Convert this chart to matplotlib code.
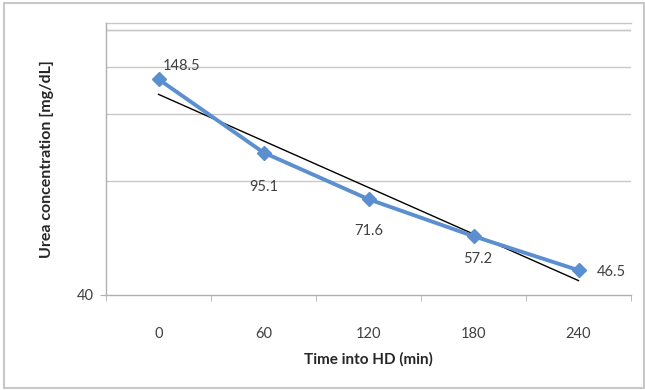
import numpy as np
import matplotlib.pyplot as plt
from matplotlib.patches import Rectangle

# data
time_min = [0, 60, 120, 180, 240]
urea = [148.5, 95.1, 71.6, 57.2, 46.5]
grid_vals = [80, 120, 160, 200]

# exponential trend line (straight on the log axis)
t = np.array(time_min, dtype=float)
slope, icpt = np.polyfit(t, np.log(urea), 1)
trend = np.exp(icpt + slope * t)

plt.rcParams['font.family'] = ['Lato', 'DejaVu Sans']

fig = plt.figure(figsize=(6.45, 3.90), dpi=100)
fig.patches.append(Rectangle((4 / 645, 2 / 390), 640 / 645, 385 / 390,
                             transform=fig.transFigure, fill=False,
                             edgecolor='#c8c8c8', linewidth=1.5))
ax = fig.add_axes([106 / 645, 1 - 295 / 390, 525 / 645, 272 / 390])

x = np.arange(len(time_min))
ax.plot(x, trend, color='black', linewidth=1.0, zorder=3)
ax.plot(x, urea, color='#5b8fd0', linewidth=2.8, marker='D', markersize=7,
        zorder=4)

ax.set_yscale('log')
ax.set_ylim(40, 209)
ax.set_xlim(-0.5, len(time_min) - 0.5)

ax.set_yticks([40])
ax.set_yticklabels(['40'])
ax.set_yticks(grid_vals, minor=True)
ax.set_yticklabels([], minor=True)
ax.yaxis.grid(True, which='minor', color='#c8c8c8', linewidth=1.0)
ax.tick_params(axis='y', which='minor', length=0)
ax.tick_params(axis='y', which='major', length=4, color='#b0b0b0',
               labelsize=10.5, labelcolor='#404040', pad=5)
ax.axhline(200, color='#c8c8c8', linewidth=1.0)

ax.set_xticks(x)
ax.set_xticklabels([str(v) for v in time_min])
ax.set_xticks(np.arange(-0.5, len(time_min)), minor=True)
ax.tick_params(axis='x', which='major', length=0, labelsize=10.5,
               labelcolor='#404040', pad=23)
ax.tick_params(axis='x', which='minor', length=4, color='#b0b0b0')

for side in ['top', 'right']:
    ax.spines[side].set_visible(False)
for side in ['left', 'bottom']:
    ax.spines[side].set_color('#b0b0b0')
    ax.spines[side].set_linewidth(1.0)
ax.plot([-0.5, len(time_min) - 0.5], [209, 209], color='#c8c8c8',
        linewidth=1.0, clip_on=False)

# data labels, placed like in the reference
offsets = [(4, 13, 'left'), (0, -34, 'center'), (0, -32, 'center'),
           (4, -23, 'center'), (18, -2, 'left')]
for xi, v, (dx, dy, ha) in zip(x, urea, offsets):
    ax.annotate(f'{v:.1f}', (xi, v), xytext=(dx, dy),
                textcoords='offset pixels', ha=ha, va='center',
                fontsize=10.5, color='#404040')

ax.set_xlabel('Time into HD (min)', fontsize=11, fontweight='bold',
              color='#262626', labelpad=8)
ax.set_ylabel('Urea concentration [mg/dL]', fontsize=11.5,
              fontweight='bold', color='#262626', labelpad=16)

fig.savefig('out.png', dpi=100)
